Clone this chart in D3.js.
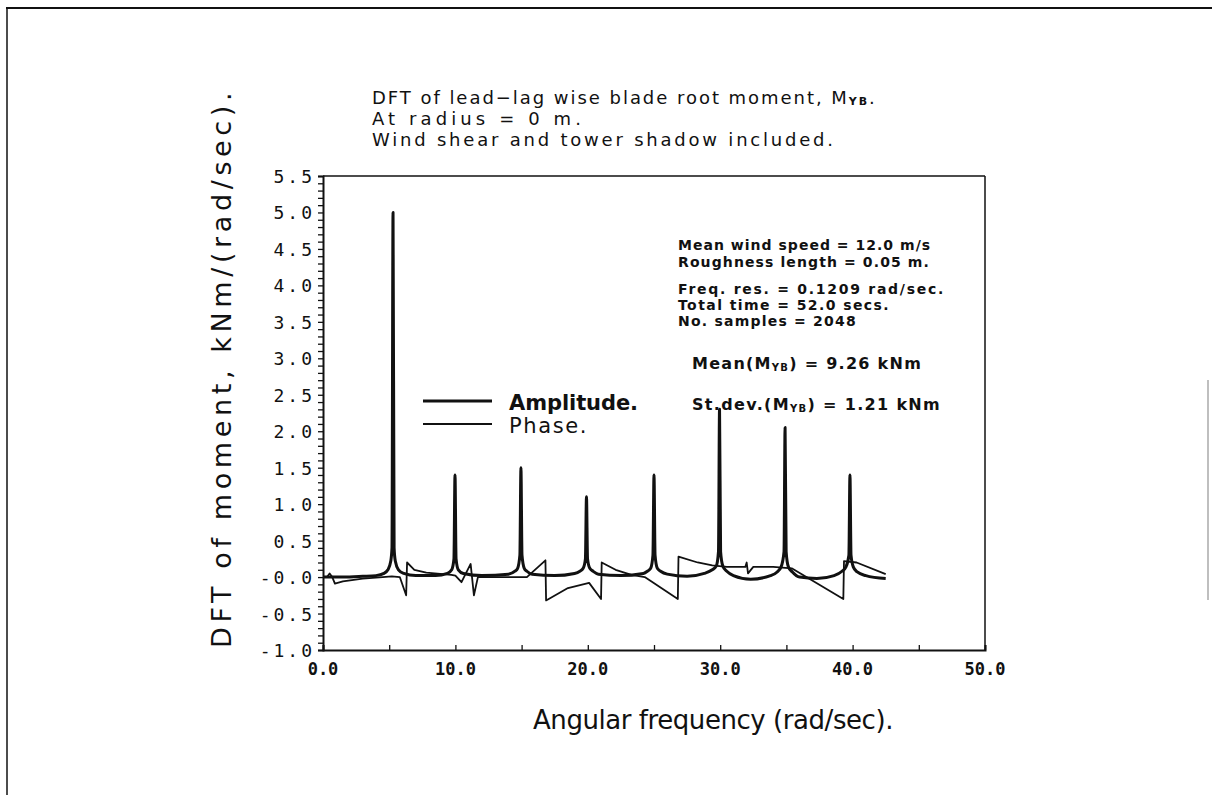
<!DOCTYPE html>
<html><head><meta charset="utf-8">
<script src="https://cdn.jsdelivr.net/npm/d3@7"></script>
<style>body{margin:0;background:#fff}svg{display:block}</style>
</head><body>
<svg id="c" width="1212" height="795"></svg>
<script>
// ---- data ----
const xTicks = [0, 10, 20, 30, 40, 50];
const xTickLabels = ["0.0", "10.0", "20.0", "30.0", "40.0", "50.0"];
const yTicks = [5.5, 5.0, 4.5, 4.0, 3.5, 3.0, 2.5, 2.0, 1.5, 1.0, 0.5, 0.0, -0.5, -1.0];
const yTickLabels = ["5.5","5.0","4.5","4.0","3.5","3.0","2.5","2.0","1.5","1.0","0.5","-0.0","-0.5","-1.0"];

const ampX = [0,0.5,1.5,3,4.0,4.6,4.9,5.12,5.21,5.29,5.37,5.46,5.7,6.1,7,8.5,9.4,9.72,9.89,9.97,10.05,10.22,10.6,12,14.0,14.5,14.7,14.87,14.95,15.03,15.2,15.4,15.8,17.5,19.0,19.4,19.65,19.82,19.9,19.98,20.15,20.4,20.8,22.5,24.2,24.5,24.75,24.92,25.0,25.08,25.25,25.5,26.0,27.5,28.8,29.4,29.7,29.87,29.95,30.03,30.2,30.5,31.0,32.3,33.8,34.3,34.6,34.82,34.9,34.98,35.15,35.45,36.0,37.3,38.6,39.2,39.5,39.72,39.8,39.88,40.05,40.35,41.0,42.5];
const ampY = [0.0,0.0,0.0,0.01,0.02,0.05,0.1,0.22,0.4,5.0,0.4,0.22,0.1,0.05,0.02,0.02,0.05,0.1,0.25,1.4,0.25,0.1,0.05,0.02,0.04,0.08,0.12,0.3,1.5,0.3,0.12,0.08,0.04,0.02,0.05,0.08,0.12,0.25,1.1,0.25,0.12,0.08,0.04,0.02,0.05,0.08,0.12,0.3,1.4,0.3,0.12,0.08,0.04,0.01,0.05,0.1,0.15,0.35,2.3,0.35,0.15,0.08,0.02,-0.03,0.02,0.07,0.14,0.35,2.05,0.35,0.14,0.07,0.0,-0.02,0.02,0.08,0.14,0.3,1.4,0.3,0.14,0.07,0.02,-0.02];

const phaseX = [0,0.3,0.5,0.7,0.9,1.5,3,4.5,5.2,5.8,6.28,6.35,6.9,7.8,9.7,10.0,10.46,11.15,11.4,11.7,13,15.4,16.8,16.85,18.5,20.1,21.0,21.05,22.1,23.3,24.3,26.8,26.85,28.3,29.4,30.5,31.9,32.0,32.1,32.5,34.0,35.4,39.3,39.35,40.3,42.5];
const phaseY = [0.0,0.0,0.05,0.0,-0.09,-0.06,-0.02,0.0,0.01,0.0,-0.25,0.2,0.1,0.06,0.03,0.02,-0.07,0.18,-0.25,0.0,0.0,0.0,0.23,-0.32,-0.15,-0.08,-0.3,0.2,0.1,0.03,0.0,-0.3,0.28,0.2,0.16,0.14,0.14,0.2,0.05,0.14,0.14,0.12,-0.3,0.22,0.2,0.04];

const titleLines = ["DFT of lead\u2212lag wise blade root moment, M", "At radius = 0 m.", "Wind shear and tower shadow included."];
const infoLines = ["Mean wind speed = 12.0 m/s", "Roughness length = 0.05 m.", "Freq. res. = 0.1209 rad/sec.", "Total time = 52.0 secs.", "No. samples = 2048"];
const legendLabels = ["Amplitude.", "Phase."];

// ---- drawing ----
const svg = d3.select("#c");
const ink = "#111";
const x = d3.scaleLinear().domain([0, 50]).range([323, 985]);
const y = d3.scaleLinear().domain([-1.0, 5.5]).range([650, 176]);

function fit(sel, w) {
  sel.each(function () {
    const n = this.getNumberOfChars();
    const cur = this.getComputedTextLength();
    d3.select(this).attr("letter-spacing", ((w - cur) / n).toFixed(2));
  });
}

// outer page border
svg.append("line").attr("x1", 6).attr("x2", 1212).attr("y1", 8).attr("y2", 8).attr("stroke", ink).attr("stroke-width", 2);
svg.append("line").attr("x1", 7).attr("x2", 7).attr("y1", 8).attr("y2", 795).attr("stroke", ink).attr("stroke-width", 1.5);
svg.append("line").attr("x1", 1208).attr("x2", 1208).attr("y1", 380).attr("y2", 600).attr("stroke", "#aaa").attr("stroke-width", 1.5);

// frame
svg.append("line").attr("x1", x(0)).attr("x2", x(50)).attr("y1", y(5.5)).attr("y2", y(5.5)).attr("stroke", ink).attr("stroke-width", 1.5);
svg.append("line").attr("x1", x(50)).attr("x2", x(50)).attr("y1", y(5.5)).attr("y2", y(-1.0)).attr("stroke", ink).attr("stroke-width", 1.5);

// y axis
const yAxis = d3.axisLeft(y).tickValues(d3.range(-10, 56).map(d => d / 10)).tickSize(5).tickFormat("");
const gy = svg.append("g").attr("transform", `translate(${x(0)},0)`).call(yAxis);
gy.select(".domain").attr("stroke", ink).attr("stroke-width", 2);
gy.selectAll(".tick line").attr("stroke", ink).attr("stroke-width", 1.3);
svg.append("g").selectAll("text").data(yTicks).join("text")
  .attr("x", 315).attr("y", d => y(d) + 7)
  .attr("text-anchor", "end").attr("letter-spacing", 3)
  .attr("font-family", "DejaVu Sans Mono").attr("font-size", 18).attr("fill", ink)
  .text((d, i) => yTickLabels[i]);

// x axis
const xAxis = d3.axisBottom(x).tickValues(d3.range(0, 51, 5)).tickSize(-5).tickFormat("");
const gx = svg.append("g").attr("transform", `translate(0,${y(-1.0)})`).call(xAxis);
gx.select(".domain").attr("stroke", ink).attr("stroke-width", 2);
gx.selectAll(".tick line").attr("stroke", ink).attr("stroke-width", 1.3);
svg.append("g").selectAll("text").data(xTicks).join("text")
  .attr("x", d => x(d)).attr("y", 675)
  .attr("text-anchor", "middle")
  .attr("font-family", "DejaVu Sans Mono").attr("font-weight", "bold").attr("font-size", 17).attr("fill", ink)
  .text((d, i) => xTickLabels[i]);

// curves
const line = d3.line().x(d => x(d[0])).y(d => y(d[1]));
svg.append("path").datum(phaseX.map((v, i) => [v, phaseY[i]]))
  .attr("d", line).attr("fill", "none").attr("stroke", ink).attr("stroke-width", 1.8).attr("stroke-linejoin", "round");
svg.append("path").datum(ampX.map((v, i) => [v, ampY[i]]))
  .attr("d", d3.line().x(d => x(d[0])).y(d => y(d[1])).curve(d3.curveMonotoneX))
  .attr("fill", "none").attr("stroke", ink).attr("stroke-width", 3).attr("stroke-linejoin", "round");

// titles
const font = "DejaVu Sans, Verdana, sans-serif";
const tb = [104, 125, 146], tw = [505, 213, 464];
titleLines.forEach((t, i) => {
  const el = svg.append("text").attr("x", 372).attr("y", tb[i]).attr("font-family", font).attr("font-size", 18).attr("fill", ink).text(t);
  if (i === 0) {
    el.append("tspan").attr("font-size", 11).attr("font-weight", "bold").attr("dy", 1).text("YB");
    el.append("tspan").attr("dy", -1).text(".");
  }
  fit(el, tw[i]);
});

// axis labels
const yl = svg.append("text").attr("transform", "translate(231,648) rotate(-90)")
  .attr("font-family", font).attr("font-size", 27).attr("fill", ink).text("DFT of moment, kNm/(rad/sec).");
fit(yl, 560);
const xl = svg.append("text").attr("x", 533).attr("y", 729)
  .attr("font-family", font).attr("font-size", 26).attr("fill", ink).text("Angular frequency (rad/sec).");
fit(xl, 360);

// info block
const ib = [250, 267, 294, 310, 326], iw = [253, 252, 267, 212, 179];
infoLines.forEach((t, i) => {
  const el = svg.append("text").attr("x", 678).attr("y", ib[i]).attr("font-family", font).attr("font-weight", "bold").attr("font-size", 14).attr("fill", ink).text(t);
  fit(el, iw[i]);
});
function statLine(pre, post, yy, w) {
  const el = svg.append("text").attr("x", 692).attr("y", yy).attr("font-family", font).attr("font-weight", "bold").attr("font-size", 16).attr("fill", ink).text(pre + "M");
  el.append("tspan").attr("font-size", 10).attr("dy", 2).text("YB");
  el.append("tspan").attr("dy", -2).text(post);
  fit(el, w);
}
statLine("Mean(", ") = 9.26 kNm", 369, 230);
statLine("St.dev.(", ") = 1.21 kNm", 410, 249);

// legend
const lgY = [401, 424], lgW = [3, 1.8], lgTW = [129, 79];
legendLabels.forEach((t, i) => {
  svg.append("line").attr("x1", 423).attr("x2", 492).attr("y1", lgY[i]).attr("y2", lgY[i]).attr("stroke", ink).attr("stroke-width", lgW[i]);
  const el = svg.append("text").attr("x", 509).attr("y", lgY[i] + 9).attr("font-family", font)
    .attr("font-weight", i === 0 ? "bold" : "normal").attr("font-size", 21).attr("fill", ink).text(t);
  fit(el, lgTW[i]);
});
</script>
</body></html>
